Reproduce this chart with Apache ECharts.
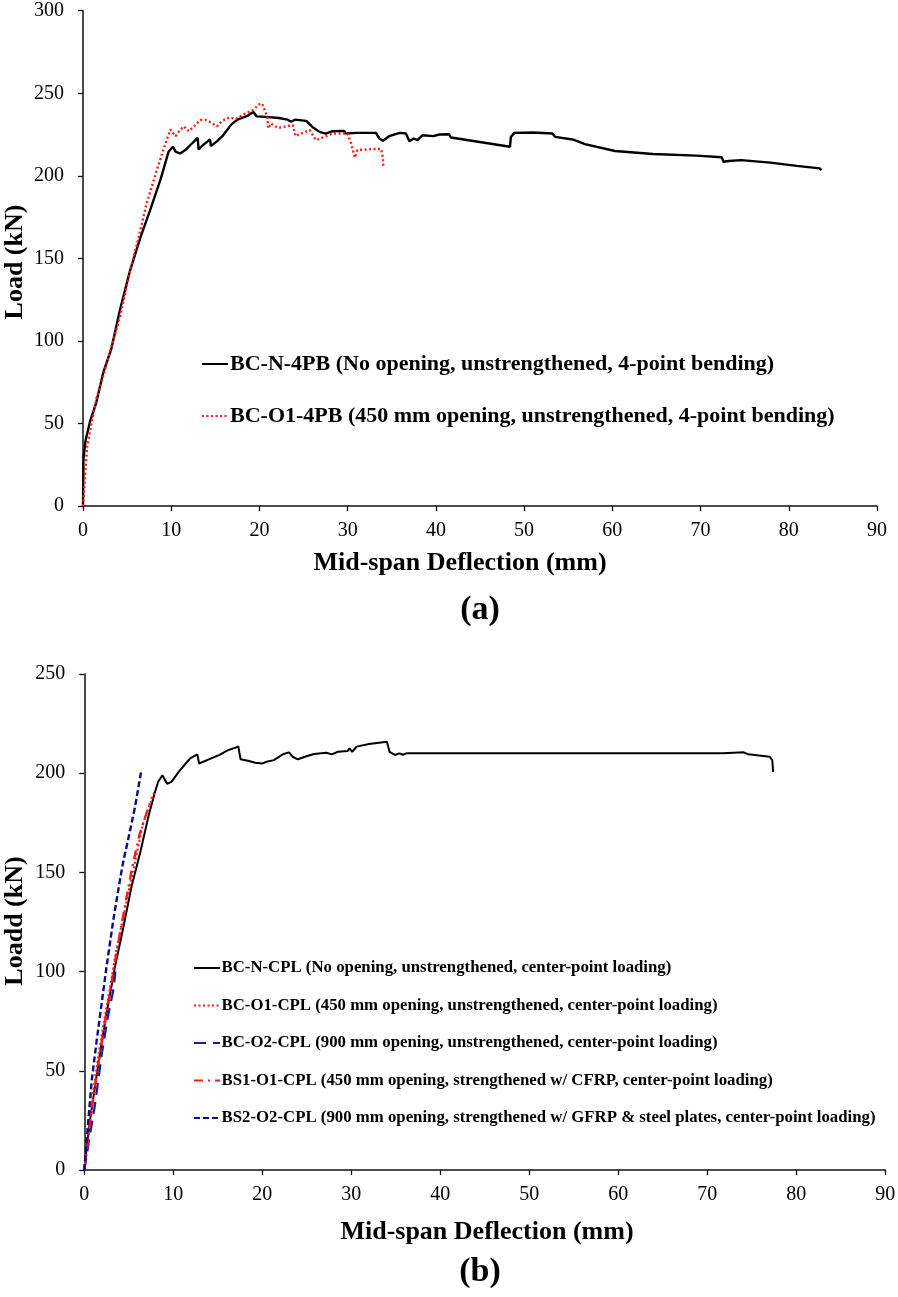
<!DOCTYPE html>
<html>
<head>
<meta charset="utf-8">
<script src="https://cdn.jsdelivr.net/npm/echarts@6/dist/echarts.min.js"></script>
<style>
html,body{margin:0;padding:0;background:#fff;}
#c{width:898px;height:1297px;}
</style>
</head>
<body>
<div id="c"></div>
<script>
// ---------- Tick labels ----------
const xTicks = [0,10,20,30,40,50,60,70,80,90];
const yTicksA = [0,50,100,150,200,250,300];
const yTicksB = [0,50,100,150,200,250];

// ---------- Titles ----------
const xTitle = 'Mid-span Deflection (mm)';
const yTitleA = 'Load (kN)';
const yTitleB = 'Loadd (kN)';
const panelA = '(a)';
const panelB = '(b)';

// ---------- (a) 4-point bending ----------
const nameA1 = 'BC-N-4PB (No opening, unstrengthened, 4-point bending)';
const nameA2 = 'BC-O1-4PB (450 mm opening, unstrengthened, 4-point bending)';
const bcN4PB = [[0,0],[0.03,15],[0.06,29],[0.3,40],[0.84,52],[1.5,62.5],[2.3,81],[3.2,95],[4.2,119],[5.3,142],[6.5,162.5],[7.6,179],[8.8,198],[9.7,214.6],[10.2,217.7],[10.5,214.6],[11.0,213.5],[11.6,215.6],[12.2,218.8],[13.0,223],[13.1,216],[13.7,219],[14.4,222],[14.5,218],[15.2,221],[15.8,224],[16.8,231],[17.5,234],[18.7,236.5],[19.3,238.6],[19.7,236],[20.7,235.7],[22.2,235],[23.2,234],[23.6,232.7],[24.0,234],[25.3,233.3],[26.0,229.6],[26.8,226.6],[27.5,225.6],[28.3,227],[29.6,227.2],[29.8,225.6],[31.0,226],[33.2,226],[33.6,222.6],[34.0,221.2],[34.7,224],[35.9,226],[36.6,225.6],[37.0,221],[37.5,222.6],[37.9,221.6],[38.5,224.6],[39.7,224],[40.4,225],[41.5,225.2],[41.7,223.2],[48.4,217.6],[48.5,223.6],[48.9,226],[51.0,226.2],[53.2,225.6],[53.5,223.6],[55.5,222],[56.9,219.2],[60.3,215],[64.6,213.2],[69.5,212.2],[72.4,211.2],[72.6,208.5],[73.2,209],[74.6,209.5],[77.9,208],[80.9,206],[83.5,204.5],[83.7,203.5]];
const bcO14PB = [[0,0],[0.27,21],[0.46,35.4],[0.95,50],[1.5,64.6],[2.3,79],[3.2,96],[4.2,114.6],[5.3,141.7],[6.3,162.5],[7.2,183],[8.4,204],[9.3,218.8],[9.9,228],[10.5,224],[10.9,227],[11.4,230],[12.0,227],[12.6,230],[13.3,233.8],[13.9,233.8],[14.5,232.3],[15.2,230],[15.8,233.3],[16.6,235.4],[17.3,234.4],[18.3,237.5],[19.2,239.6],[20.0,243.4],[20.3,243.8],[20.9,235.7],[21.0,228.7],[21.3,231.7],[22.1,229],[23.8,230.7],[24.1,224],[24.9,226],[25.7,227.7],[26.4,221.6],[27.2,223.2],[28.3,225.6],[30.0,225.6],[30.4,219.6],[30.8,211],[31.1,215.6],[32.8,216.2],[33.8,216.2],[34.0,210.5],[34.05,205]];

// ---------- (b) center-point loading ----------
const nameB1 = 'BC-N-CPL (No opening, unstrengthened, center-point loading)';
const nameB2 = 'BC-O1-CPL (450 mm opening, unstrengthened, center-point loading)';
const nameB3 = 'BC-O2-CPL (900 mm opening, unstrengthened, center-point loading)';
const nameB4 = 'BS1-O1-CPL (450 mm opening, strengthened w/ CFRP, center-point loading)';
const nameB5 = 'BS2-O2-CPL (900 mm opening, strengthened w/ GFRP & steel plates, center-point loading)';
const bcNCPL = [[0,0],[0.27,11.8],[0.64,25],[1.2,42],[1.76,58.8],[2.5,79],[3.45,102.5],[4.4,122.6],[5.3,142.8],[6.26,159.6],[7.2,178],[7.9,189.9],[8.3,195.7],[8.77,199],[9.3,194.7],[9.8,195.6],[10.6,200.7],[11.4,204.9],[11.9,207.5],[12.7,209.5],[12.9,204.9],[13.8,206.6],[15.2,209.2],[16.2,211.7],[17.0,212.9],[17.3,213.5],[17.56,207],[18.4,206.3],[19.2,205.3],[20.0,204.9],[20.5,205.8],[21.3,206.6],[22.4,209.7],[23.0,210.5],[23.4,208.3],[24.0,207],[24.8,208.3],[25.8,209.7],[27.2,210.3],[27.8,209.5],[28.5,210.8],[29.6,211.2],[29.8,212.5],[30.1,210.8],[30.6,213.4],[32.0,214.7],[34.0,215.9],[34.2,216.4],[34.3,210.8],[34.9,209.2],[35.4,210],[35.8,209.3],[36.2,210],[71.7,210],[74.1,210.5],[74.6,209.5],[77.0,208.3],[77.3,206.6],[77.4,200.7]];
const bcO1CPL = [[0,0],[0.45,20],[0.83,33.7],[1.4,52],[2.1,72],[2.9,92],[3.6,111],[4.4,127.7],[5.1,142.8],[5.9,159.6],[6.6,174.7],[7.4,184.8],[7.9,190.7]];
const bcO2CPL = [[0,0],[0.5,14],[1.2,32.8],[1.95,58],[2.6,76],[3.26,90.7],[3.5,100]];
const bs1O1CPL = [[0,0],[0.3,10],[0.6,22],[1.0,36],[1.5,51],[2.2,71],[3.0,93],[3.8,114],[4.6,134],[5.4,153],[6.2,169],[7.0,180],[7.6,188]];
const bs2O2CPL = [[0,0],[0.45,25],[0.83,45],[1.4,65.5],[1.95,84],[2.5,102.5],[3.26,126],[4.0,146],[4.4,156],[4.9,166],[5.7,183],[6.37,200.4]];

const FONT = '"Liberation Serif","Times New Roman",serif';

function xAx(gi){
  return {
    type:'value', gridIndex:gi, min:0, max:90, interval:10,
    axisLine:{show:true, onZero:false, lineStyle:{color:'#111', width:1.5}},
    axisTick:{show:true, inside:false, length:5, lineStyle:{color:'#111', width:1.3}},
    axisLabel:{fontFamily:FONT, fontSize:20, color:'#000', margin:15},
    splitLine:{show:false}
  };
}
function yAx(gi, max){
  return {
    type:'value', gridIndex:gi, min:0, max:max, interval:50,
    axisLine:{show:true, lineStyle:{color:'#111', width:1.5}},
    axisTick:{show:true, inside:false, length:5, lineStyle:{color:'#111', width:1.3}},
    axisLabel:{fontFamily:FONT, fontSize:20, color:'#000', margin:19},
    splitLine:{show:false}
  };
}
function ser(name, data, xi, color, type, width){
  return {
    name:name, type:'line', xAxisIndex:xi, yAxisIndex:xi, data:data,
    showSymbol:false, symbol:'none', smooth:false, animation:false,
    lineStyle:{color:color, width:width, type:type},
    itemStyle:{color:color}
  };
}
function titleText(text, x, y, size, rot){
  return {type:'text', x:x, y:y, rotation:rot||0,
    style:{text:text, fontFamily:FONT, fontWeight:'bold', fontSize:size, fill:'#000', align:'center', verticalAlign:'middle'}};
}

const chart = echarts.init(document.getElementById('c'), null, {renderer:'canvas'});
chart.setOption({
  backgroundColor:'#fff',
  animation:false,
  grid:[
    {left:83, top:10.7, width:794, height:495.3, outerBoundsMode:'none', containLabel:false},
    {left:84.3, top:674, width:801, height:496, outerBoundsMode:'none', containLabel:false}
  ],
  xAxis:[xAx(0), xAx(1)],
  yAxis:[yAx(0,300), yAx(1,250)],
  legend:[
    {
      data:[nameA1, nameA2], orient:'vertical', left:201, top:353, itemGap:30, padding:0,
      itemWidth:26, itemHeight:14,
      itemStyle:{opacity:0},
      textStyle:{fontFamily:FONT, fontWeight:'bold', fontSize:22, lineHeight:20, color:'#000', padding:[0,0,0,-3]},
      selectedMode:false
    },
    {
      data:[nameB1, nameB2, nameB3, nameB4, nameB5], orient:'vertical', left:193, top:959, itemGap:19.5, padding:0,
      itemWidth:26, itemHeight:14,
      itemStyle:{opacity:0},
      textStyle:{fontFamily:FONT, fontWeight:'bold', fontSize:16.8, lineHeight:18, color:'#000', padding:[0,0,0,-3.5]},
      selectedMode:false
    }
  ],
  series:[
    ser(nameA1, bcN4PB, 0, '#000000', 'solid', 2.4),
    ser(nameA2, bcO14PB, 0, '#ff1a1a', [2,2.5], 2.4),
    ser(nameB1, bcNCPL, 1, '#000000', 'solid', 2),
    ser(nameB2, bcO1CPL, 1, '#ff1a1a', [2,2.5], 2.2),
    ser(nameB3, bcO2CPL, 1, '#1a1a9c', [12,7], 2.2),
    ser(nameB4, bs1O1CPL, 1, '#ff1a1a', [9,5,2,5], 2.4),
    ser(nameB5, bs2O2CPL, 1, '#0a0a8c', [6,3], 2.4)
  ],
  graphic:[
    titleText(xTitle, 460, 563, 26),
    titleText(xTitle, 487, 1232, 26),
    titleText(yTitleA, 15, 262, 26, Math.PI/2),
    titleText(yTitleB, 15, 921, 26, Math.PI/2),
    titleText(panelA, 480, 610, 34),
    titleText(panelB, 480, 1272, 34)
  ]
});
</script>
</body>
</html>
